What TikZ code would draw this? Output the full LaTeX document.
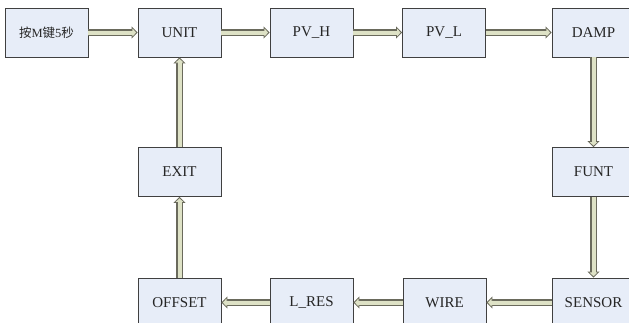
\documentclass[tikz,border=0pt]{standalone}
\usepackage{fontspec}
\setmainfont{Liberation Serif}
\newfontfamily\cjk{Noto Sans CJK SC}
\usetikzlibrary{arrows.meta}
\definecolor{boxfill}{HTML}{E7EDF8}
\definecolor{boxline}{HTML}{404040}
\definecolor{arrfill}{HTML}{DEE2C6}
\definecolor{arrline}{HTML}{6A6A5C}
\tikzset{
  box/.style={draw=boxline, fill=boxfill, line width=0.8pt, minimum width=83pt,
    minimum height=49pt, inner sep=0pt, text=black!85, font=\fontsize{15}{18}\selectfont},
  fat/.style={line width=7pt, draw=arrline,
    -{Triangle[length=6pt, width=12pt, line width=0.8pt, fill=arrfill]},
    postaction={draw=arrfill, line width=4pt, -, shorten >=4.5pt}}
}
\begin{document}
\begin{tikzpicture}[x=1pt,y=1pt]
\useasboundingbox[fill=white] (0,0) rectangle (629,-322);
\node[box] (start) at (46.5,-32.5) {\fontsize{12.5}{15}\selectfont{\cjk 按}M{\cjk 键}5{\cjk 秒}};
\node[box] (unit) at (179.5,-32.5) {UNIT};
\node[box] (pvh) at (311.5,-32.5) {PV\_H};
\node[box] (pvl) at (444,-32.5) {PV\_L};
\node[box] (damp) at (593.5,-32.5) {DAMP};
\node[box] (funt) at (593.5,-172) {FUNT};
\node[box] (exit) at (179.5,-172) {EXIT};
\node[box] (sensor) at (593.5,-302.5) {SENSOR};
\node[box] (wire) at (444.5,-302.5) {WIRE};
\node[box] (lres) at (311.5,-302.5) {L\_RES};
\node[box] (offset) at (179.5,-302.5) {OFFSET};
\draw[fat] (start) -- (unit);
\draw[fat] (unit) -- (pvh);
\draw[fat] (pvh) -- (pvl);
\draw[fat] (pvl) -- (damp);
\draw[fat] (damp) -- (funt);
\draw[fat] (funt) -- (sensor);
\draw[fat] (sensor) -- (wire);
\draw[fat] (wire) -- (lres);
\draw[fat] (lres) -- (offset);
\draw[fat] (offset) -- (exit);
\draw[fat] (exit) -- (unit);
\end{tikzpicture}
\end{document}
